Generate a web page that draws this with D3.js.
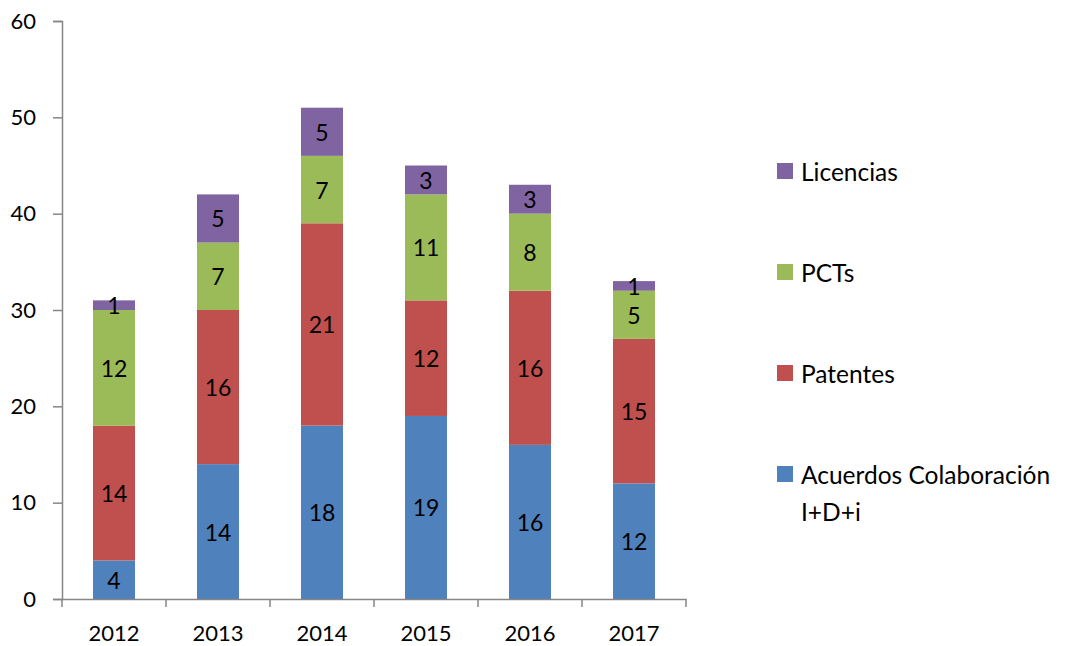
<!DOCTYPE html>
<html>
<head>
<meta charset="utf-8">
<script src="https://cdn.jsdelivr.net/npm/d3@7"></script>
<style>
  body { margin: 0; background: #fff; }
  svg text { font-family: Lato, "Open Sans", sans-serif; fill: #000; }
</style>
</head>
<body>
<svg id="chart" width="1070" height="646"></svg>
<script>
// Datos del gráfico
const years = ["2012", "2013", "2014", "2015", "2016", "2017"];
const acuerdos = [4, 14, 18, 19, 16, 12];
const patentes = [14, 16, 21, 12, 16, 15];
const pcts = [12, 7, 7, 11, 8, 5];
const licencias = [1, 5, 5, 3, 3, 1];
const seriesNames = ["Acuerdos Colaboración I+D+i", "Patentes", "PCTs", "Licencias"];
const seriesColors = ["#4F81BD", "#C0504D", "#9BBB59", "#8064A2"];
const yTicks = [0, 10, 20, 30, 40, 50, 60];

const svg = d3.select("#chart");
const keys = ["acuerdos", "patentes", "pcts", "licencias"];
const rows = years.map((y, i) => ({
    year: y,
    acuerdos: acuerdos[i],
    patentes: patentes[i],
    pcts: pcts[i],
    licencias: licencias[i]
}));

const x = d3.scaleBand().domain(years).range([62, 686]).paddingInner(0.596).paddingOuter(0.298);
const xBand = d3.scaleBand().domain(years).range([62, 686]);
const y = d3.scaleLinear().domain([0, 60]).range([599, 21]);
const color = d3.scaleOrdinal().domain(keys).range(seriesColors);

const stacked = d3.stack().keys(keys)(rows);

// ====================================
// Barras
// ====================================
const layers = svg.append("g").selectAll("g")
    .data(stacked)
    .join("g")
    .attr("fill", d => color(d.key));

layers.selectAll("rect")
    .data(d => d)
    .join("rect")
    .attr("x", d => x(d.data.year))
    .attr("y", d => y(d[1]))
    .attr("width", x.bandwidth())
    .attr("height", d => y(d[0]) - y(d[1]));

layers.selectAll("text")
    .data(d => d)
    .join("text")
    .attr("x", d => x(d.data.year) + x.bandwidth() / 2)
    .attr("y", d => (y(d[0]) + y(d[1])) / 2)
    .attr("text-anchor", "middle")
    .attr("dominant-baseline", "central")
    .style("font-size", "23px")
    .text(d => d[1] - d[0]);

// ====================================
// Ejes
// ====================================
const axisColor = "#868686";

const yAxis = svg.append("g")
    .attr("transform", "translate(62,0)")
    .call(d3.axisLeft(y).tickValues(yTicks).tickSize(9).tickPadding(17));
yAxis.select(".domain").attr("stroke", axisColor).attr("stroke-width", 1.5);
yAxis.selectAll(".tick line").attr("stroke", axisColor).attr("stroke-width", 1.5);
yAxis.selectAll(".tick text").style("font-size", "22px").attr("fill", "#000");

const xAxis = svg.append("g")
    .attr("transform", "translate(0,599)")
    .call(d3.axisBottom(xBand).tickSize(0).tickPadding(26));
xAxis.select(".domain").attr("stroke", axisColor).attr("stroke-width", 1.5);
xAxis.selectAll(".tick text").style("font-size", "22px").attr("fill", "#000");

// marcas entre categorías
xAxis.selectAll(".sep")
    .data(years.concat(["end"]))
    .join("line")
    .attr("class", "sep")
    .attr("x1", (d, i) => i < years.length ? xBand(d) : xBand.range()[1])
    .attr("x2", (d, i) => i < years.length ? xBand(d) : xBand.range()[1])
    .attr("y1", 0)
    .attr("y2", 8)
    .attr("stroke", axisColor)
    .attr("stroke-width", 1.5);

// ====================================
// Leyenda
// ====================================
const legendOrder = [3, 2, 1, 0];
const legend = svg.append("g").selectAll("g")
    .data(legendOrder)
    .join("g")
    .attr("transform", (d, i) => `translate(777,${171 + i * 101})`);

legend.append("rect")
    .attr("x", 0)
    .attr("y", -8)
    .attr("width", 16)
    .attr("height", 16)
    .attr("fill", d => seriesColors[d]);

legend.append("text")
    .attr("x", 24)
    .attr("y", 0)
    .attr("dominant-baseline", "central")
    .style("font-size", "24.5px")
    .each(function(d) {
        const name = seriesNames[d];
        const t = d3.select(this);
        if (d === 0) {
            t.append("tspan").attr("x", 24).text("Acuerdos Colaboración");
            t.append("tspan").attr("x", 24).attr("dy", 37).text("I+D+i");
        } else {
            t.text(name);
        }
    });
</script>
</body>
</html>
